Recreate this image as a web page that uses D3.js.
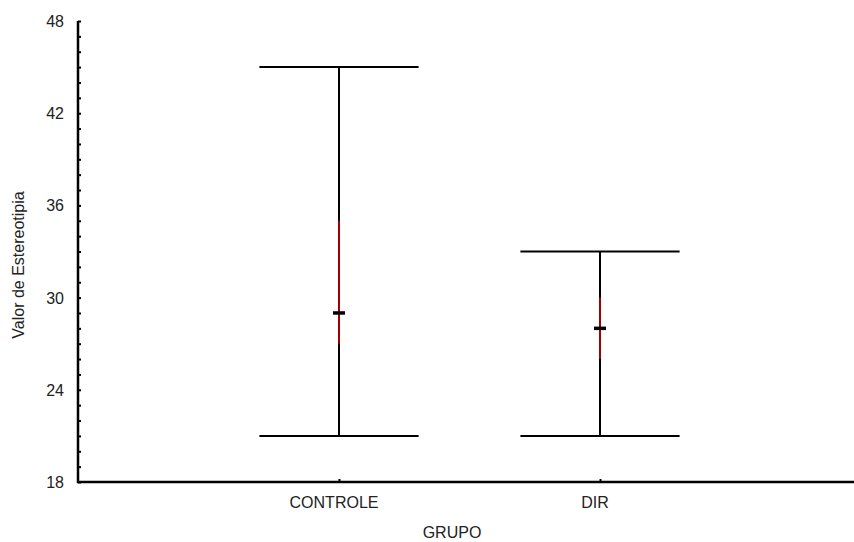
<!DOCTYPE html>
<html><head><meta charset="utf-8">
<script src="https://cdn.jsdelivr.net/npm/d3@7"></script>
<style>body{margin:0;background:#fff}svg{display:block}text{font-family:"Liberation Sans",Arial,sans-serif;fill:#222}</style>
</head><body><svg id="c" width="854" height="542"></svg>
<script>
const categories = ["CONTROLE", "DIR"];
const medians = [29, 28];
const q1 = [27, 26];
const q3 = [35, 30];
const minVals = [21, 21];
const maxVals = [45, 33];
const yTicks = [18, 24, 30, 36, 42, 48];

(function () {
const svg = d3.select("#c");
const mLeft = 78, mTop = 21, mBottom = 482, mRight = 861;
const y = d3.scaleLinear().domain([18, 48]).range([mBottom, mTop]);
const x = d3.scaleLinear().domain([0, 3]).range([mLeft, mRight]);

// y axis minor ticks
const yAxis = d3.axisRight(y).tickValues(d3.range(18, 49, 1)).tickSize(3).tickFormat("");
const gy = svg.append("g").attr("transform", `translate(${mLeft},0)`).call(yAxis);
gy.select(".domain").remove();
gy.selectAll("line").attr("stroke", "#000").attr("stroke-width", 2);
svg.append("g").selectAll("text").data(yTicks).join("text")
  .attr("x", mLeft - 14).attr("y", d => y(d) + 6).attr("text-anchor", "end")
  .attr("font-size", 16).text(d => d);

// x axis
const gx = svg.append("g").attr("transform", `translate(0,${mBottom})`)
  .call(d3.axisTop(x).tickValues([1, 2]).tickSize(3).tickFormat(""));
gx.select(".domain").remove();
gx.selectAll("line").attr("stroke", "#000").attr("stroke-width", 2);
svg.append("g").selectAll("text").data(categories).join("text")
  .attr("x", (d, i) => x(i + 1) - 5).attr("y", mBottom + 26).attr("text-anchor", "middle")
  .attr("font-size", 16).text(d => d);

// axis lines
svg.append("path").attr("d", `M${mLeft},${mTop}V${mBottom}H854`).attr("fill", "none")
  .attr("stroke", "#000").attr("stroke-width", 2.5);

// titles
svg.append("text").attr("x", 452).attr("y", 538).attr("text-anchor", "middle")
  .attr("font-size", 16).text("GRUPO");
svg.append("text").attr("transform", `translate(24,265) rotate(-90)`)
  .attr("text-anchor", "middle").attr("font-size", 16).text("Valor de Estereotipia");

// whiskers
const capHalf = 0.305;
const g = svg.append("g");
categories.forEach((c, i) => {
  const cx = x(i + 1);
  g.append("line").attr("x1", cx).attr("x2", cx).attr("y1", y(minVals[i])).attr("y2", y(maxVals[i]))
    .attr("stroke", "#000").attr("stroke-width", 2);
  g.append("line").attr("x1", cx).attr("x2", cx).attr("y1", y(q1[i])).attr("y2", y(q3[i]))
    .attr("stroke", "#a00000").attr("stroke-width", 2);
  [minVals[i], maxVals[i]].forEach(v => {
    g.append("line").attr("x1", x(i + 1 - capHalf)).attr("x2", x(i + 1 + capHalf))
      .attr("y1", y(v)).attr("y2", y(v)).attr("stroke", "#000").attr("stroke-width", 2);
  });
  g.append("line").attr("x1", cx - 6).attr("x2", cx + 6).attr("y1", y(medians[i])).attr("y2", y(medians[i]))
    .attr("stroke", "#000").attr("stroke-width", 3.5);
});
})();
</script></body></html>
